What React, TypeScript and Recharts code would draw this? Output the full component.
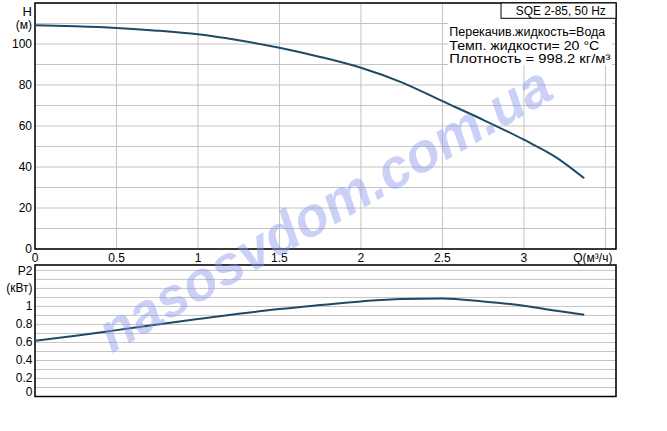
import React from 'react';
import { LineChart, Line, XAxis, YAxis, CartesianGrid, ReferenceArea } from 'recharts';

// flow rate Q, m3/h
const flow = [0, 0.25, 0.5, 0.75, 1.0, 1.25, 1.5, 1.75, 2.0, 2.25, 2.5, 2.75, 3.0, 3.2, 3.37];
// head H, m
const head = [109.1, 108.6, 107.8, 106.5, 104.7, 101.8, 98.2, 93.7, 88.4, 81.3, 72.1, 63.0, 53.3, 44.6, 34.5];
// power P2, kW
const power = [0.618, 0.675, 0.737, 0.8, 0.86, 0.918, 0.971, 1.015, 1.056, 1.083, 1.088, 1.055, 1.008, 0.952, 0.908];

const qTicks = [0, 0.5, 1, 1.5, 2, 2.5, 3, 3.5];
const hTicks = [0, 10, 20, 30, 40, 50, 60, 70, 80, 90, 100, 110, 120];
const pTicks = [0, 0.1, 0.2, 0.3, 0.4, 0.5, 0.6, 0.7, 0.8, 0.9, 1.0, 1.1, 1.2, 1.3, 1.4];

const hLabels: Record<number, string> = { 0: '0', 20: '20', 40: '40', 60: '60', 80: '80', 100: '100', 110: '(м)', 120: 'H' };
const pLabels: Record<number, string> = { 0: '0', 2: '0.2', 4: '0.4', 6: '0.6', 8: '0.8', 10: '1', 12: '(кВт)', 14: 'P2' };

const Q_MAX = 3.565;
const FONT = '"Liberation Sans", Arial, sans-serif';
const CURVE = '#1d4a66';
const GRID = '#c4c4c4';

const data = flow.map((q, i) => ({ q, h: head[i], p: power[i] }));

const QTick = ({ x, payload }: any) => {
  const last = payload.value === 3.5;
  return (
    <text x={last ? x + 7 : x} y={257.5} textAnchor={last ? 'end' : 'middle'} dominantBaseline="central"
      fontSize={12} fontFamily={FONT} fill="#000">
      {last ? 'Q(м³/ч)' : String(payload.value)}
    </text>
  );
};

const HTick = ({ y, payload }: any) => {
  const label = hLabels[payload.value];
  if (!label) return null;
  const dy = payload.value === 120 ? 8 : payload.value === 110 ? 1.5 : 0;
  return (
    <text x={32} y={y + dy} textAnchor="end" dominantBaseline="central" fontSize={payload.value === 120 ? 13 : 12}
      fontFamily={FONT} fill="#000">
      {label}
    </text>
  );
};

const PTick = ({ y, payload }: any) => {
  const k = Math.round(payload.value * 10);
  const label = pLabels[k];
  if (!label) return null;
  const dy = k === 0 ? -4.5 : k === 14 ? 1 : 0;
  return (
    <text x={32.5} y={y + dy} textAnchor="end" dominantBaseline="central" fontSize={12} fontFamily={FONT} fill="#000">
      {label}
    </text>
  );
};

export default function App() {
  return (
    <div style={{ position: 'absolute', left: 0, top: 0, width: 667, height: 431, background: '#fff' }}>
      <div style={{ position: 'absolute', left: 0, top: 0 }}>
        <LineChart width={667} height={270} data={data} margin={{ top: 3, right: 51, bottom: 0, left: 0 }}>
          <CartesianGrid stroke={GRID} strokeWidth={1} />
          <XAxis dataKey="q" type="number" domain={[0, Q_MAX]} ticks={qTicks} interval={0} height={21}
            axisLine={false} tickLine={false} tick={<QTick />} allowDataOverflow />
          <YAxis type="number" domain={[0, 120]} ticks={hTicks} interval={0} width={35}
            axisLine={false} tickLine={false} tick={<HTick />} />
          <ReferenceArea x1={0} x2={Q_MAX} y1={0} y2={120} fill="none" stroke="#000" strokeWidth={1.5} />
          <Line type="monotone" dataKey="h" stroke={CURVE} strokeWidth={2} dot={false} isAnimationActive={false} />
        </LineChart>
      </div>
      <div style={{ position: 'absolute', left: 0, top: 260 }}>
        <LineChart width={667} height={171} data={data} margin={{ top: 5, right: 51, bottom: 0, left: 0 }}>
          <CartesianGrid stroke={GRID} strokeWidth={1} />
          <XAxis dataKey="q" type="number" domain={[0, Q_MAX]} ticks={qTicks} interval={0} height={34.5}
            axisLine={false} tickLine={false} tick={false} allowDataOverflow />
          <YAxis type="number" domain={[0, 1.46]} ticks={pTicks} interval={0} width={35}
            axisLine={false} tickLine={false} tick={<PTick />} allowDataOverflow />
          <ReferenceArea x1={0} x2={Q_MAX} y1={0} y2={1.46} fill="none" stroke="#000" strokeWidth={1.5} />
          <Line type="monotone" dataKey="p" stroke={CURVE} strokeWidth={2} dot={false} isAnimationActive={false} />
        </LineChart>
      </div>
      <svg width={667} height={431} style={{ position: 'absolute', left: 0, top: 0, pointerEvents: 'none' }}>
        <rect x={501} y={3} width={115} height={15.3} fill="#fff" stroke="#000" strokeWidth={1} />
        <text x={515.7} y={15} fontSize={12} fontFamily={FONT} fill="#000" textLength={90} lengthAdjust="spacingAndGlyphs">
          SQE 2-85, 50 Hz
        </text>
        <rect x={448} y={19} width={164} height={46} fill="#fff" />
        <text x={449.3} y={36} fontSize={12.5} fontFamily={FONT} fill="#000" textLength={156} lengthAdjust="spacingAndGlyphs">
          Перекачив.жидкость=Вода
        </text>
        <text x={449.3} y={49.5} fontSize={12.5} fontFamily={FONT} fill="#000" textLength={150} lengthAdjust="spacingAndGlyphs">
          Темп. жидкости= 20 °C
        </text>
        <text x={449.3} y={63} fontSize={12.5} fontFamily={FONT} fill="#000" textLength={161} lengthAdjust="spacingAndGlyphs">
          Плотность = 998.2 кг/м³
        </text>
        <text x={334} y={225} transform="rotate(-30 334 225)" textAnchor="middle" fontSize={55} fontWeight="bold"
          fontStyle="italic" fontFamily={FONT} fill="#8c96ee" fillOpacity={0.45}>
          nasosvdom.com.ua
        </text>
      </svg>
    </div>
  );
}
